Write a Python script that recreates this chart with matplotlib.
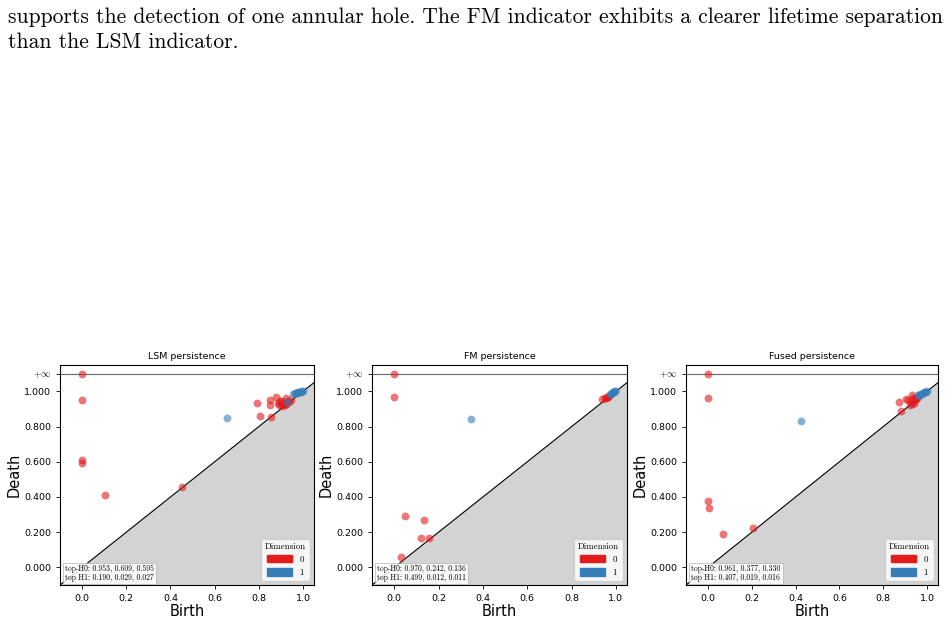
import numpy as np
import matplotlib
matplotlib.use('Agg')
import matplotlib.pyplot as plt
import matplotlib.patches as mpatches

plt.rcParams['mathtext.fontset'] = 'cm'

# paragraph above the figure
para_lines = [
    "supports the detection of one annular hole. The FM indicator exhibits a clearer lifetime separation",
    "than the LSM indicator.",
]

titles = ['LSM persistence', 'FM persistence', 'Fused persistence']

# H0 (dimension 0) points: births / deaths; np.inf = essential class
lsm_h0_birth = [0.0, 0.0, 0.0, 0.0, 0.105, 0.453, 0.794, 0.805, 0.855, 0.852, 0.852, 0.877,
                0.885, 0.900, 0.904, 0.922, 0.915, 0.937, 0.944, 0.890, 0.910, 0.925, 0.895,
                0.930, 0.918, 0.905]
lsm_h0_death = [np.inf, 0.953, 0.609, 0.595, 0.413, 0.455, 0.932, 0.860, 0.856, 0.951, 0.924, 0.966,
                0.934, 0.944, 0.915, 0.962, 0.930, 0.940, 0.950, 0.925, 0.935, 0.928, 0.945,
                0.945, 0.920, 0.930]
lsm_h1_birth = [0.657, 0.929, 0.955, 0.962, 0.968, 0.972, 0.978, 0.982, 0.986, 0.990, 0.994, 0.998]
lsm_h1_death = [0.849, 0.938, 0.984, 0.989, 0.990, 0.993, 0.995, 0.997, 0.998, 0.999, 1.000, 1.000]

fm_h0_birth = [0.0, 0.0, 0.048, 0.136, 0.119, 0.157, 0.032, 0.938, 0.950, 0.957, 0.965, 0.969, 0.960]
fm_h0_death = [np.inf, 0.970, 0.290, 0.272, 0.169, 0.165, 0.057, 0.958, 0.962, 0.963, 0.970, 0.974, 0.966]
fm_h1_birth = [0.345, 0.975, 0.978, 0.982, 0.985, 0.988, 0.991, 0.995, 0.998]
fm_h1_death = [0.844, 0.987, 0.988, 0.991, 0.994, 0.996, 0.998, 1.000, 1.000]

fused_h0_birth = [0.0, 0.0, 0.0, 0.007, 0.069, 0.206, 0.871, 0.880, 0.905, 0.931, 0.920, 0.943,
                  0.955, 0.925, 0.935, 0.940, 0.915, 0.945, 0.930, 0.950]
fused_h0_death = [np.inf, 0.961, 0.377, 0.337, 0.188, 0.222, 0.940, 0.889, 0.958, 0.977, 0.920, 0.953,
                  0.962, 0.945, 0.960, 0.935, 0.950, 0.965, 0.930, 0.958]
fused_h1_birth = [0.426, 0.958, 0.962, 0.966, 0.970, 0.975, 0.980, 0.985, 0.990, 0.995, 0.998]
fused_h1_death = [0.833, 0.977, 0.978, 0.980, 0.984, 0.988, 0.991, 0.994, 0.997, 0.999, 1.000]

top_text = [
    "top-H0: 0.953, 0.609, 0.595\ntop H1: 0.190, 0.029, 0.027",
    "top-H0: 0.970, 0.242, 0.136\ntop H1: 0.499, 0.012, 0.011",
    "top-H0: 0.961, 0.377, 0.330\ntop H1: 0.407, 0.019, 0.016",
]

panels = [
    (lsm_h0_birth, lsm_h0_death, lsm_h1_birth, lsm_h1_death),
    (fm_h0_birth, fm_h0_death, fm_h1_birth, fm_h1_death),
    (fused_h0_birth, fused_h0_death, fused_h1_birth, fused_h1_death),
]

colors = ['#e41a1c', '#377eb8']
yticks = [0.0, 0.2, 0.4, 0.6, 0.8, 1.0]

W, H = 947, 623
fig = plt.figure(figsize=(W / 100, H / 100), dpi=100)

fig.text(8 / W, 1 - 17 / H, para_lines[0], family='cmr10', fontsize=15.5, va='center', ha='left')
fig.text(8 / W, 1 - 42 / H, para_lines[1], family='cmr10', fontsize=15.5, va='center', ha='left')

lefts = [60, 372, 686]
widths = [254, 255, 252]

axis_start, axis_end = -0.1, 1.05
infinity = 1.1

for i, (b0, d0, b1, d1) in enumerate(panels):
    ax = fig.add_axes([lefts[i] / W, 38 / H, widths[i] / W, 220 / H])
    x = np.array([axis_start, axis_end])
    ax.fill_between(x, axis_start, x, color='lightgrey', zorder=0)
    ax.plot(x, x, color='k', linewidth=0.8)
    ax.plot(x, [infinity, infinity], color='k', linewidth=0.8, alpha=0.6)

    d0 = np.where(np.isinf(d0), infinity, d0)
    ax.scatter(b0, d0, s=32, color=colors[0], alpha=0.6, linewidths=0, zorder=3)
    ax.scatter(b1, d1, s=32, color=colors[1], alpha=0.6, linewidths=0, zorder=3)

    ax.set_xlim(axis_start, axis_end)
    ax.set_ylim(axis_start, infinity + 0.05)
    ax.set_yticks(yticks + [infinity])
    ax.set_yticklabels(['%.3f' % v for v in yticks] + [r'$+\infty$'])
    ax.set_xticks([0.0, 0.2, 0.4, 0.6, 0.8, 1.0])
    ax.tick_params(labelsize=6.8, length=3, width=0.6)
    for sp in ax.spines.values():
        sp.set_linewidth(0.8)

    ax.set_title(titles[i], fontsize=6.8, pad=4)
    ax.set_xlabel('Birth', fontsize=10.5, labelpad=1)
    ax.set_ylabel('Death', fontsize=10.5, labelpad=2)

    handles = [mpatches.Patch(color=colors[k], label=str(k)) for k in range(2)]
    leg = ax.legend(handles=handles, title='Dimension', loc='lower right',
                    prop={'family': 'cmr10', 'size': 6.4}, borderaxespad=0.5,
                    handlelength=2.8, handleheight=0.9)
    leg.get_title().set_family('cmr10')
    leg.get_title().set_fontsize(6.4)

    ax.text(0.02, 0.015, top_text[i], transform=ax.transAxes, family='cmr10', fontsize=5.5,
            va='bottom', ha='left', linespacing=1.0,
            bbox=dict(boxstyle='square,pad=0.3', facecolor='white', edgecolor='0.7',
                      linewidth=0.6, alpha=0.85))

fig.savefig('out.png', dpi=100)
